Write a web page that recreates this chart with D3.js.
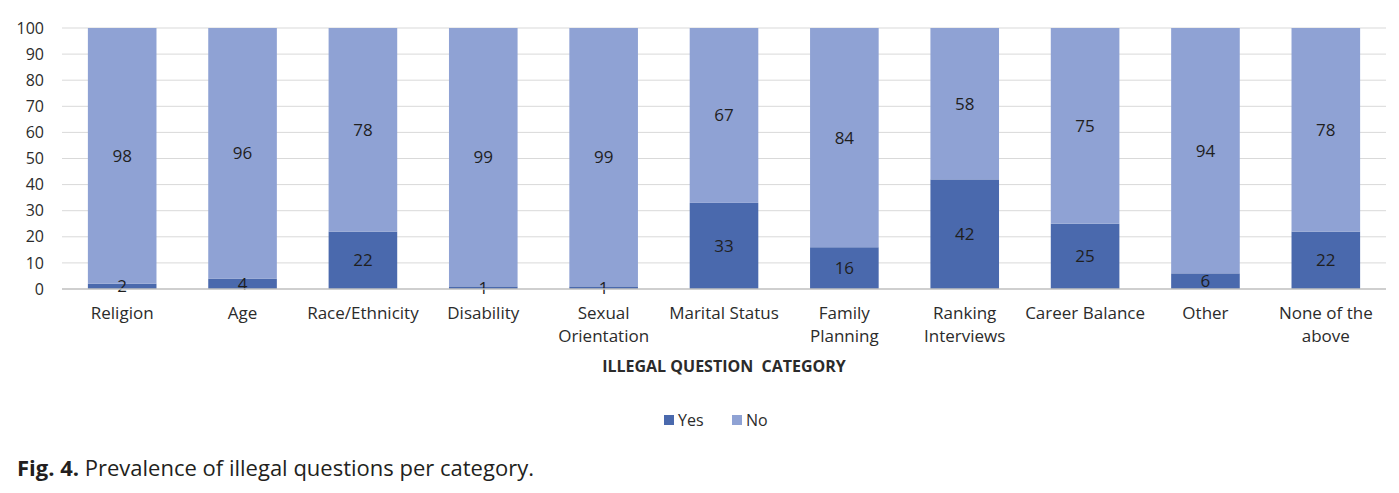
<!DOCTYPE html>
<html>
<head>
<meta charset="utf-8">
<script src="https://cdn.jsdelivr.net/npm/d3@7"></script>
<style>
  body { margin: 0; background: #fff; }
  text { font-family: "Open Sans", "Noto Sans", sans-serif; }
</style>
</head>
<body>
<div id="chart"></div>
<script>
// chart data
var categories = ["Religion", "Age", "Race/Ethnicity", "Disability", "Sexual Orientation",
    "Marital Status", "Family Planning", "Ranking Interviews", "Career Balance", "Other", "None of the above"];
var labelLines = [["Religion"], ["Age"], ["Race/Ethnicity"], ["Disability"], ["Sexual", "Orientation"],
    ["Marital Status"], ["Family", "Planning"], ["Ranking", "Interviews"], ["Career Balance"], ["Other"], ["None of the", "above"]];
var yesValues = [2, 4, 22, 1, 1, 33, 16, 42, 25, 6, 22];
var noValues = [98, 96, 78, 99, 99, 67, 84, 58, 75, 94, 78];
var yTicks = [0, 10, 20, 30, 40, 50, 60, 70, 80, 90, 100];
var seriesNames = ["Yes", "No"];

var W = 1399, H = 493;
var margin = { top: 28, right: 13, bottom: 204, left: 62 },
    width = W - margin.left - margin.right,
    height = H - margin.top - margin.bottom;

var color = d3.scaleOrdinal().domain(seriesNames).range(["#4a69ad", "#8fa2d4"]);

var svg = d3.select("#chart")
    .append("svg")
    .attr("width", W)
    .attr("height", H);

var g = svg.append("g")
    .attr("transform", "translate(" + margin.left + "," + margin.top + ")");

var x = d3.scaleBand().domain(categories).range([0, width]).paddingInner(0.43).paddingOuter(0.215);
var y = d3.scaleLinear().domain([0, 100]).range([height, 0]);

// gridlines
g.selectAll("line.grid")
    .data(yTicks.filter(function (d) { return d > 0; }))
    .enter()
    .append("line")
    .attr("x1", 0)
    .attr("x2", width)
    .attr("y1", function (d) { return y(d); })
    .attr("y2", function (d) { return y(d); })
    .style("stroke", "#d9d9d9")
    .style("stroke-width", 1);

// y tick labels
g.selectAll("text.ytick")
    .data(yTicks)
    .enter()
    .append("text")
    .attr("x", -18)
    .attr("y", function (d) { return y(d); })
    .attr("dy", "0.35em")
    .attr("text-anchor", "end")
    .attr("font-size", "16px")
    .attr("fill", "#2b2b2b")
    .text(function (d) { return d; });

// stacked data
var rows = categories.map(function (c, i) { return { cat: c, Yes: yesValues[i], No: noValues[i] }; });
var stacked = d3.stack().keys(seriesNames)(rows);

var layers = g.selectAll("g.layer")
    .data(stacked)
    .enter()
    .append("g")
    .style("fill", function (d) { return color(d.key); });

layers.selectAll("rect")
    .data(function (d) { return d; })
    .enter()
    .append("rect")
    .attr("x", function (d) { return x(d.data.cat); })
    .attr("y", function (d) { return y(d[1]); })
    .attr("width", x.bandwidth())
    .attr("height", function (d) { return y(d[0]) - y(d[1]); });

// value labels
stacked.forEach(function (layer) {
    g.selectAll("text.v-" + layer.key)
        .data(layer)
        .enter()
        .append("text")
        .attr("x", function (d) { return x(d.data.cat) + x.bandwidth() / 2; })
        .attr("y", function (d) { return y((d[0] + d[1]) / 2); })
        .attr("dy", "0.35em")
        .attr("text-anchor", "middle")
        .attr("font-size", "17px")
        .attr("fill", "#1f1f1f")
        .text(function (d) { return d.data[layer.key]; });
});

// baseline
g.append("line")
    .attr("x1", 0)
    .attr("x2", width)
    .attr("y1", y(0))
    .attr("y2", y(0))
    .style("stroke", "#bfbfbf")
    .style("stroke-width", 1.5);

// category labels
var catLabels = g.selectAll("text.cat")
    .data(categories)
    .enter()
    .append("text")
    .attr("x", function (d) { return x(d) + x.bandwidth() / 2; })
    .attr("y", height + 30)
    .attr("text-anchor", "middle")
    .attr("font-size", "17px")
    .attr("fill", "#2b2b2b");

catLabels.each(function (d, i) {
    var t = d3.select(this);
    labelLines[i].forEach(function (line, j) {
        t.append("tspan")
            .attr("x", x(d) + x.bandwidth() / 2)
            .attr("dy", j === 0 ? 0 : 23)
            .text(line);
    });
});

// axis title
svg.append("text")
    .attr("x", 724)
    .attr("y", 372)
    .attr("text-anchor", "middle")
    .attr("font-size", "16px")
    .attr("font-weight", "bold")
    .attr("fill", "#2b2b2b")
    .style("white-space", "pre")
    .text("ILLEGAL QUESTION  CATEGORY");

// legend
var legend = svg.append("g").attr("transform", "translate(664,420)");
var legendX = [0, 68];
seriesNames.forEach(function (s, i) {
    legend.append("rect")
        .attr("x", legendX[i])
        .attr("y", -5)
        .attr("width", 10)
        .attr("height", 10)
        .style("fill", color(s));
    legend.append("text")
        .attr("x", legendX[i] + 14)
        .attr("y", 0)
        .attr("dy", "0.35em")
        .attr("font-size", "16px")
        .attr("fill", "#2b2b2b")
        .text(s);
});

// caption
var cap = svg.append("text")
    .attr("x", 17)
    .attr("y", 476)
    .attr("font-size", "22px")
    .attr("fill", "#231f20");
cap.append("tspan").attr("font-weight", "bold").text("Fig. 4.");
cap.append("tspan").text(" Prevalence of illegal questions per category.");
</script>
</body>
</html>
